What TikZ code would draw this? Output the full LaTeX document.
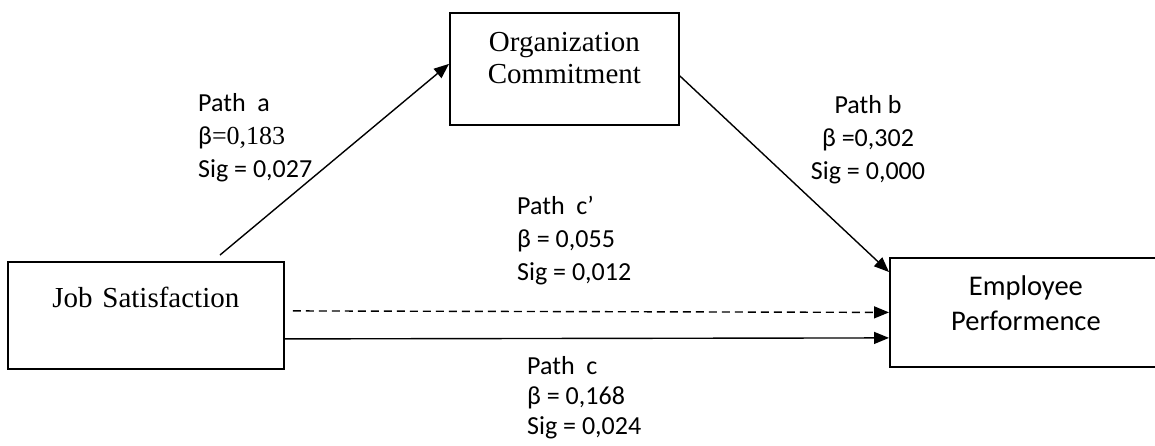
\documentclass[tikz,border=0pt]{standalone}
\usepackage{fontspec}
\setmainfont{Liberation Serif}
\newfontfamily\calfont{Carlito}
\usetikzlibrary{arrows.meta,positioning,calc}
\tikzset{
    basic/.style  = {draw, rectangle, line width=1.8pt, inner sep=0pt, align=center},
    var box/.style = {basic, anchor=north west, font=\fontsize{29}{32}\selectfont},
    var box cal/.style = {basic, anchor=north west, font=\calfont\fontsize{28.5}{35}\selectfont},
    path label/.style = {inner sep=0pt, font=\calfont\fontsize{26}{33}\selectfont},
    path line/.style = {line width=1.4pt, -{Triangle[length=15pt,width=12pt]}}
}
\begin{document}
\begin{tikzpicture}[x=1pt,y=-1pt]
    \useasboundingbox (0,0) rectangle (1155,445);
    \node[var box, text width=276pt, text height=45.5pt, text depth=61.5pt] (job) at (7,261) {Job Satisfaction};
    \node[var box, text width=229pt, text height=39pt, text depth=73pt] (org) at (449,12) {Organization\\Commitment};
    \node[var box cal, text width=272pt, text height=38pt, text depth=71pt] (emp) at (889,257) {Employee\\Performence};

    \node[path label, anchor=north west, align=left] (pa) at (198,93) {Path\ \ a\\β{\rmfamily=0,183}\\Sig = 0,027};
    \node[path label, anchor=north, align=center] (pb) at (868,95) {Path b\\β =0,302\\Sig = 0,000};
    \node[path label, anchor=north west, align=left] (pcd) at (517,196) {Path\ \ c’\\β = 0,055\\Sig = 0,012};
    \node[path label, anchor=north west, align=left, font=\calfont\fontsize{26}{30}\selectfont] (pc) at (527,356) {Path\ \ c\\β = 0,168\\Sig = 0,024};

    \coordinate (a0) at (220,255);
    \draw[path line] (a0) -- ([yshift=5pt]org.west);
    \draw[path line] ([yshift=-7pt]org.east) -- ([yshift=-15pt]emp.north west);
    \draw[path line, dash pattern=on 8pt off 5pt] ([xshift=8pt,yshift=4.5pt]job.east) -- (emp.west);
    \draw[path line] ([yshift=-23.5pt]job.east) -- ([yshift=-25.5pt]emp.west);
\end{tikzpicture}
\end{document}
